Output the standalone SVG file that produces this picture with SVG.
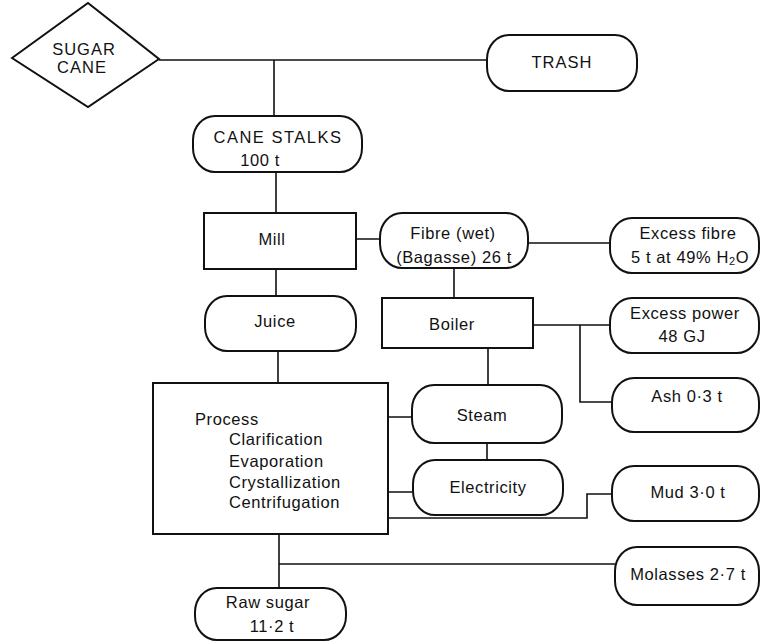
<svg xmlns="http://www.w3.org/2000/svg" width="761" height="641" viewBox="0 0 761 641">
<style>
.n{fill:#fff;stroke:#111;stroke-width:2}
.c{fill:none;stroke:#111;stroke-width:1.6}
text{font-family:"Liberation Sans",Arial,sans-serif;font-size:16.5px;fill:#111;letter-spacing:0.6px}
.m{text-anchor:middle}
.cap{font-size:16.5px;letter-spacing:1px}
</style>
<rect width="761" height="641" fill="#fff"/>
<g id="connectors">
<path class="c" d="M159 60H487M274 60V116M276 172V213M356 239H380M276 269V296M278 351V383M528 243H610M454 268V298M533 325H610M580 325V402H612M488 348V385M388 417H412M487 443V460M388 492H413M388 518H587V494H612M279 534V588M279 564H615"/>
</g>
<g id="sugar-cane"><polygon class="n" points="12,58 88,3 159,59 88,107"/><text class="m cap" x="84" y="55">SUGAR</text><text class="m cap" x="82" y="73">CANE</text></g>
<g id="trash"><rect class="n" x="487" y="35" width="150" height="56" rx="22" ry="24"/><text class="m cap" x="562" y="68">TRASH</text></g>
<g id="cane-stalks"><rect class="n" x="193" y="116" width="169" height="56" rx="22" ry="24"/><text class="m cap" x="278" y="143" style="letter-spacing:1.5px">CANE STALKS</text><text class="m" x="260" y="166">100 t</text></g>
<g id="mill"><rect class="n" x="204" y="213" width="152" height="56"/><text class="m" x="272" y="245">Mill</text></g>
<g id="juice"><rect class="n" x="205" y="296" width="151" height="55" rx="22" ry="24"/><text class="m" x="275" y="327">Juice</text></g>
<g id="process"><rect class="n" x="153" y="383" width="235" height="151"/><text x="195" y="425">Process</text><text x="229" y="445">Clarification</text><text x="229" y="467">Evaporation</text><text x="229" y="488">Crystallization</text><text x="229" y="508">Centrifugation</text></g>
<g id="fibre"><rect class="n" x="380" y="213" width="148" height="55" rx="22" ry="24"/><text class="m" x="453" y="239">Fibre (wet)</text><text class="m" x="454" y="263">(Bagasse) 26 t</text></g>
<g id="excess-fibre"><rect class="n" x="610" y="218" width="149" height="55" rx="22" ry="24"/><text class="m" x="688" y="239">Excess fibre</text><text class="m" x="690" y="263">5 t at 49% H<tspan font-size="11" dy="2">2</tspan><tspan dy="-2">O</tspan></text></g>
<g id="boiler"><rect class="n" x="382" y="298" width="151" height="50"/><text class="m" x="452" y="330">Boiler</text></g>
<g id="excess-power"><rect class="n" x="610" y="298" width="149" height="55" rx="22" ry="24"/><text class="m" x="685" y="319">Excess power</text><text class="m" x="682" y="342">48 GJ</text></g>
<g id="ash"><rect class="n" x="612" y="378" width="147" height="54" rx="22" ry="24"/><text class="m" x="687" y="402">Ash 0·3 t</text></g>
<g id="steam"><rect class="n" x="412" y="385" width="150" height="58" rx="22" ry="24"/><text class="m" x="482" y="421">Steam</text></g>
<g id="electricity"><rect class="n" x="413" y="460" width="150" height="55" rx="22" ry="24"/><text class="m" x="488" y="493">Electricity</text></g>
<g id="mud"><rect class="n" x="612" y="466" width="147" height="55" rx="22" ry="24"/><text class="m" x="688" y="498">Mud 3·0 t</text></g>
<g id="molasses"><rect class="n" x="615" y="547" width="144" height="58" rx="22" ry="24"/><text class="m" x="688" y="580">Molasses 2·7 t</text></g>
<g id="raw-sugar"><rect class="n" x="195" y="588" width="151" height="52" rx="22" ry="24"/><text class="m" x="268" y="608">Raw sugar</text><text class="m" x="272" y="632">11·2 t</text></g>
</svg>
